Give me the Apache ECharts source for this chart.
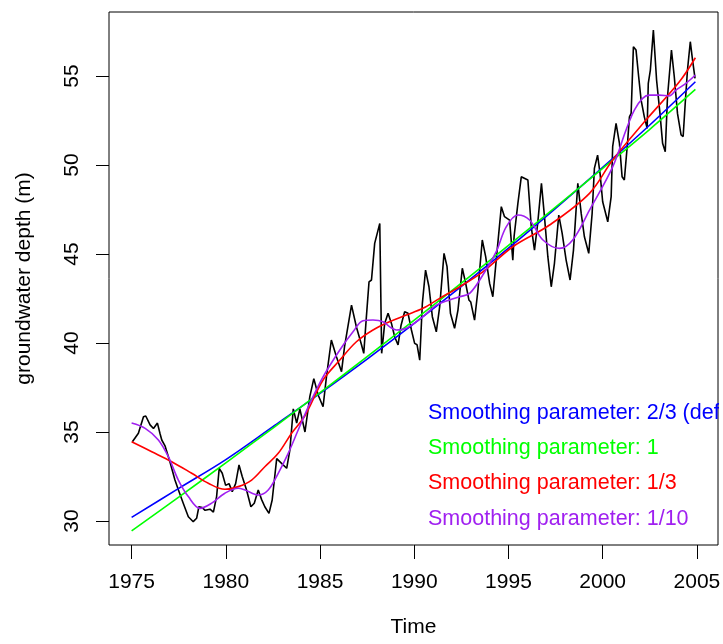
<!DOCTYPE html>
<html>
<head>
<meta charset="utf-8">
<script src="https://cdn.jsdelivr.net/npm/echarts@6/dist/echarts.min.js"></script>
<style>
html,body{margin:0;padding:0;background:#fff;}
#chart{width:723px;height:644px;}
</style>
</head>
<body>
<div id="chart"></div>
<script>
// ---- data ----
var xTicks = [1975, 1980, 1985, 1990, 1995, 2000, 2005];
var yTicks = [30, 35, 40, 45, 50, 55];

var obsTime = [1975.04,1975.36,1975.63,1975.75,1975.98,1976.16,1976.37,1976.51,1976.6,1976.78,1977.04,1977.3,1977.48,1977.74,1978.01,1978.27,1978.45,1978.57,1978.75,1978.9,1979.16,1979.34,1979.51,1979.65,1979.81,1979.99,1980.17,1980.34,1980.52,1980.7,1980.87,1981.1,1981.33,1981.51,1981.72,1981.9,1982.07,1982.29,1982.46,1982.7,1982.96,1983.23,1983.4,1983.58,1983.76,1983.93,1984.2,1984.46,1984.67,1984.9,1985.16,1985.34,1985.6,1985.87,1986.14,1986.3,1986.67,1986.93,1987.2,1987.32,1987.46,1987.6,1987.73,1987.9,1988.17,1988.27,1988.43,1988.61,1988.79,1988.96,1989.14,1989.3,1989.49,1989.67,1989.85,1990.02,1990.15,1990.29,1990.43,1990.6,1990.78,1990.96,1991.17,1991.35,1991.58,1991.74,1991.92,1992.14,1992.32,1992.55,1992.72,1992.9,1993.0,1993.2,1993.38,1993.61,1993.79,1994.0,1994.17,1994.35,1994.62,1994.79,1995.06,1995.23,1995.3,1995.5,1995.68,1996.03,1996.21,1996.38,1996.55,1996.75,1996.91,1997.09,1997.27,1997.44,1997.67,1997.85,1998.06,1998.27,1998.45,1998.68,1998.86,1999.03,1999.26,1999.44,1999.56,1999.73,1999.86,2000.0,2000.27,2000.45,2000.53,2000.71,2000.89,2001.03,2001.15,2001.33,2001.42,2001.51,2001.63,2001.77,2001.91,2002.04,2002.21,2002.36,2002.42,2002.53,2002.69,2002.86,2003.04,2003.18,2003.32,2003.44,2003.53,2003.65,2003.8,2003.97,2004.16,2004.27,2004.38,2004.5,2004.65,2004.77,2004.9];
var obsDepth = [34.45,34.93,35.86,35.9,35.4,35.2,35.5,34.9,34.55,34.2,33.3,32.3,31.75,31.0,30.24,29.96,30.15,30.8,30.75,30.6,30.66,30.5,31.37,32.96,32.68,32.0,32.1,31.65,32.1,33.15,32.5,31.74,30.8,31.0,31.74,31.2,30.8,30.43,31.18,33.5,33.24,32.96,34.0,36.3,35.5,36.3,35.0,37.0,38.0,37.08,36.42,38.1,40.17,39.23,38.39,39.8,42.13,40.9,39.9,39.42,41.48,43.44,43.54,45.6,46.72,39.42,41.1,41.67,41.1,40.35,39.89,41.0,41.76,41.67,40.73,39.98,39.9,39.04,42.23,44.1,43.16,41.48,40.63,42.04,45.04,44.29,41.67,40.83,41.85,44.2,43.4,42.42,42.3,41.29,42.98,45.79,44.85,43.35,42.6,44.66,47.66,47.1,46.9,44.66,46.0,47.85,49.34,49.16,46.53,45.22,46.7,48.97,47.1,44.85,43.16,44.48,47.19,46.16,44.66,43.54,45.22,48.97,47.28,45.97,45.04,47.28,49.81,50.56,49.53,47.94,46.81,48.22,51.03,52.34,51.22,49.34,49.16,51.4,52.71,52.9,56.65,56.46,54.96,53.65,52.71,52.06,54.59,55.34,57.58,54.78,52.9,51.22,50.75,53.84,54.96,56.46,54.96,52.9,51.69,51.6,53.46,55.34,56.93,55.9,54.87];

var smTime = [1975,1977.5,1980,1982.5,1985,1987.5,1990,1992.5,1995,1997.5,2000,2002.5,2004.92];
var span23 = [30.2,31.83,33.45,35.3,37.17,39.1,41.1,43.18,45.33,47.57,49.87,52.25,54.68];
var span1  = [29.44,31.34,33.27,35.22,37.21,39.23,41.29,43.36,45.48,47.63,49.81,52.01,54.25];

var span13Time = [1975.0,1976.07,1977.13,1978.19,1979.07,1979.95,1980.66,1981.37,1982.07,1982.78,1983.49,1984.19,1985.16,1986.05,1986.93,1987.81,1988.7,1989.58,1990.46,1991.35,1992.41,1993.64,1995.23,1997.18,1999.3,2000.53,2002.3,2004.07,2004.92];
var span13 = [34.45,33.89,33.33,32.68,32.12,31.78,31.93,32.3,33.05,33.8,34.93,35.9,37.92,39.04,40.07,40.73,41.2,41.57,41.95,42.51,43.16,44.0,45.41,46.63,48.41,50.28,52.53,54.68,56.03];

var span110Time = [1975.0,1975.72,1976.42,1976.95,1977.48,1978.01,1978.63,1979.25,1979.95,1980.66,1981.02,1981.72,1982.25,1982.78,1983.31,1983.84,1984.46,1985.16,1986.05,1986.75,1987.28,1987.81,1988.34,1988.7,1989.05,1989.58,1990.46,1991.17,1991.88,1992.41,1992.94,1993.64,1994.35,1994.88,1995.5,1996.12,1996.83,1997.71,1998.41,1999.3,2000.53,2001.24,2001.68,2002.12,2002.48,2003.0,2003.53,2003.89,2004.42,2004.92];
var span110 = [35.5,35.2,34.55,33.61,32.3,31.37,30.71,31.0,31.56,31.84,31.74,31.46,31.74,32.68,33.8,35.11,36.61,38.1,39.61,40.63,41.25,41.29,41.2,40.91,40.73,40.83,41.48,42.13,42.42,42.6,42.79,43.82,45.13,46.53,47.19,46.91,45.79,45.32,45.79,47.47,49.9,51.97,53.09,53.75,53.93,53.93,53.88,54.21,54.59,55.06];

var seriesNames = ['Smoothing parameter: 2/3 (default)','Smoothing parameter: 1','Smoothing parameter: 1/3','Smoothing parameter: 1/10'];
var seriesColors = ['#0000FF','#00FF00','#FF0000','#A020F0'];

function pairs(xs, ys){ return xs.map(function(x,i){ return [x, ys[i]]; }); }

var FONT = 'Liberation Sans, Arial, Helvetica, sans-serif';
var chart = echarts.init(document.getElementById('chart'), null, {renderer:'canvas'});

function smoothSeries(idx, xs, ys){
  return {
    name: seriesNames[idx], type:'line', data: pairs(xs, ys), smooth: 0.35,
    showSymbol:false, symbol:'none', lineStyle:{color: seriesColors[idx], width:1.6},
    itemStyle:{color: seriesColors[idx]}, z: 3 + idx
  };
}

chart.setOption({
  animation:false,
  backgroundColor:'#fff',
  grid:{left:109, right:5, top:12, bottom:99, show:true, borderColor:'#000', borderWidth:1, backgroundColor:'transparent', containLabel:false, outerBoundsMode:'none'},
  xAxis:{
    type:'value', min:1973.8, max:2006.12,
    name:'Time', nameLocation:'middle', nameGap:72,
    nameTextStyle:{fontFamily:FONT, fontSize:21, color:'#000'},
    axisLine:{show:false},
    axisTick:{show:true, length:14, lineStyle:{color:'#000', width:1}, customValues: xTicks},
    axisLabel:{show:true, fontFamily:FONT, fontSize:21, color:'#000', margin:27, customValues: xTicks, formatter: function(v){ return String(v); }},
    splitLine:{show:false}
  },
  yAxis:{
    type:'value', min:28.65, max:58.6,
    name:'groundwater depth (m)', nameLocation:'middle', nameGap:74,
    nameTextStyle:{fontFamily:FONT, fontSize:21, color:'#000'},
    axisLine:{show:false},
    axisTick:{show:true, length:13, lineStyle:{color:'#000', width:1}, customValues: yTicks},
    axisLabel:{show:true, rotate:90, fontFamily:FONT, fontSize:21, color:'#000', margin:26, customValues: yTicks, formatter: function(v){ return String(v); }},
    splitLine:{show:false}
  },
  legend:{
    orient:'vertical', left:423, top:402, padding:0, itemGap:13.2,
    itemWidth:0, itemHeight:14, icon:'none', selectedMode:false,
    textStyle:{fontFamily:FONT, fontSize:21.5},
    data: seriesNames.map(function(n,i){ return {name:n, icon:'none', textStyle:{color:seriesColors[i], fontFamily:FONT, fontSize:21.5}}; })
  },
  graphic:[{type:'rect', shape:{x:719, y:395, width:10, height:40}, style:{fill:'#fff'}, z:100, silent:true}],
  series:[
    {name:'observed', type:'line', data: pairs(obsTime, obsDepth), showSymbol:false, symbol:'none',
     lineStyle:{color:'#000', width:1.6}, itemStyle:{color:'#000'}, z:2},
    smoothSeries(0, smTime, span23),
    smoothSeries(1, smTime, span1),
    smoothSeries(2, span13Time, span13),
    smoothSeries(3, span110Time, span110)
  ]
});
</script>
</body>
</html>
